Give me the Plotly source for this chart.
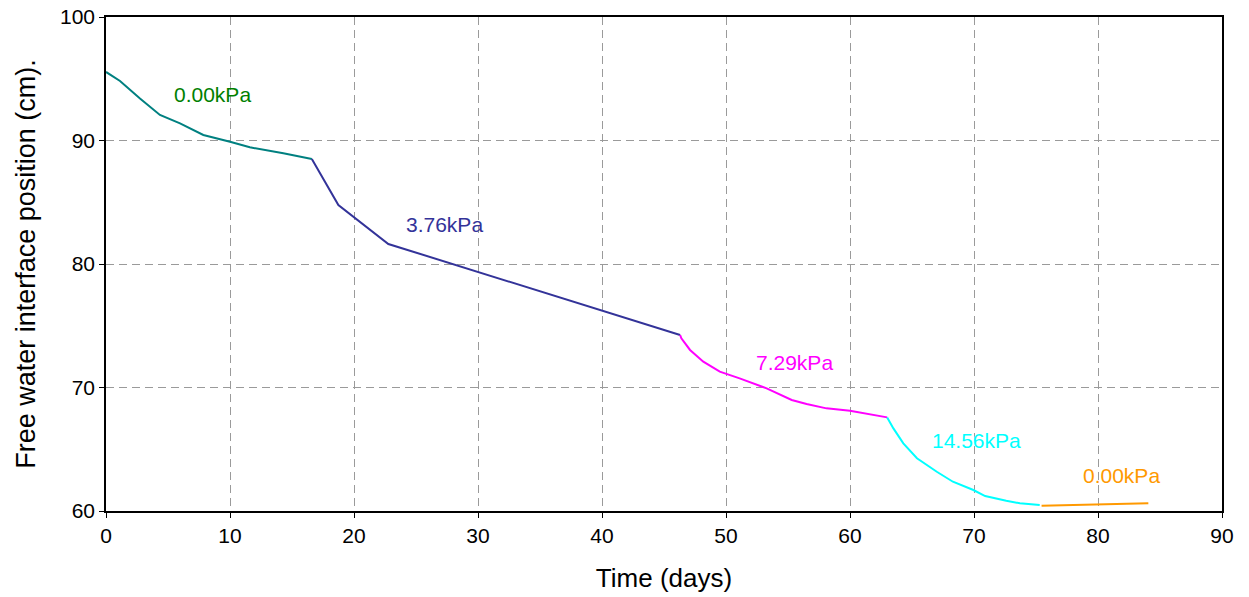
import plotly.graph_objects as go

# Data (time in days, interface position in cm)
t_0kpa = [0.0, 1.13, 2.74, 4.35, 5.97, 6.77, 7.85, 10.0, 11.6, 14.3, 16.6]
h_0kpa = [95.55, 94.82, 93.4, 92.07, 91.39, 90.99, 90.45, 89.9, 89.45, 88.96, 88.5]

t_376 = [16.6, 18.74, 22.77, 46.3]
h_376 = [88.5, 84.78, 81.62, 74.25]

t_729 = [46.3, 46.4, 47.1, 48.17, 49.5, 51.1, 53.28, 55.3, 56.5, 58.1, 60.0, 61.6, 63.0]
h_729 = [74.25, 73.98, 73.04, 72.09, 71.28, 70.74, 69.93, 68.99, 68.66, 68.31, 68.12, 67.85, 67.58]

t_1456 = [63.0, 63.5, 64.3, 65.4, 67.0, 68.3, 69.95, 70.9, 72.6, 73.7, 75.3]
h_1456 = [67.58, 66.69, 65.48, 64.27, 63.18, 62.37, 61.7, 61.21, 60.83, 60.62, 60.49]

t_0end = [75.45, 84.06]
h_0end = [60.43, 60.62]

series_names = ["0.00kPa", "3.76kPa", "7.29kPa", "14.56kPa", "0.00kPa"]
series_colors = ["#008080", "#333399", "#FF00FF", "#00FFFF", "#FF9900"]
series_t = [t_0kpa, t_376, t_729, t_1456, t_0end]
series_h = [h_0kpa, h_376, h_729, h_1456, h_0end]

label_text = ["0.00kPa", "3.76kPa", "7.29kPa", "14.56kPa", "0.00kPa"]
label_colors = ["#008000", "#333399", "#FF00FF", "#00FFFF", "#FF9900"]
label_x = [8.6, 27.3, 55.5, 70.2, 81.9]
label_y = [93.7, 83.2, 72.0, 65.7, 62.9]

x_ticks = [0, 10, 20, 30, 40, 50, 60, 70, 80, 90]
y_ticks = [60, 70, 80, 90, 100]

FONT = "Arial, Liberation Sans, sans-serif"

fig = go.Figure()
for name, color, tx, hy in zip(series_names, series_colors, series_t, series_h):
    fig.add_trace(go.Scatter(x=tx, y=hy, mode="lines", name=name,
                             line=dict(color=color, width=2), showlegend=False))

for txt, c, lx, ly in zip(label_text, label_colors, label_x, label_y):
    fig.add_annotation(x=lx, y=ly, xref="x", yref="y", text=txt, showarrow=False,
                       font=dict(family=FONT, size=21, color=c))

axis_common = dict(
    showline=True, linecolor="black", linewidth=1.5, mirror=True,
    ticks="outside", ticklen=5, tickcolor="black", tickwidth=1,
    showgrid=True, gridcolor="#9a9a9a", gridwidth=1, griddash="8px,5px",
    zeroline=False, tickfont=dict(family=FONT, size=21, color="black"),
    automargin=False, ticklabeloverflow="allow",
)

fig.update_xaxes(range=[0, 90], tickvals=x_ticks,
                 title=dict(text="Time (days)", font=dict(family=FONT, size=26, color="black"), standoff=23),
                 **axis_common)
fig.update_yaxes(range=[60, 100], tickvals=y_ticks,
                 title=dict(text="Free water interface position (cm).", font=dict(family=FONT, size=27, color="black"), standoff=17),
                 **axis_common)

fig.update_layout(
    width=1249, height=597,
    margin=dict(l=106, r=27, t=17, b=86),
    paper_bgcolor="white", plot_bgcolor="white",
    font=dict(family=FONT),
)

fig.write_html("out.html",
               config={"displayModeBar": False},
               post_script="document.body.style.margin='0';document.body.style.overflow='hidden';")
